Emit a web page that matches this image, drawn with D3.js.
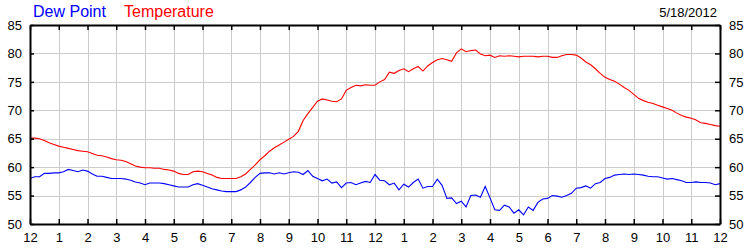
<!DOCTYPE html>
<html>
<head>
<meta charset="utf-8">
<script src="https://cdn.jsdelivr.net/npm/d3@7"></script>
<style>
  body { margin: 0; background: #fff; }
  svg text { font-family: Arial, "Liberation Sans", sans-serif; }
</style>
</head>
<body>
<div id="chart"></div>
<script>
(function() {

    // readings every 10 minutes, midnight to midnight
    var stepMinutes = 10;

    var temperature = [
        65.1, 65.1, 65.0, 64.7, 64.3, 64.0, 63.7, 63.5, 63.3, 63.1, 62.9, 62.8,
        62.7, 62.4, 62.1, 62.0, 61.8, 61.5, 61.3, 61.2, 61.0, 60.6, 60.2, 60.0,
        59.9, 59.9, 59.8, 59.8, 59.6, 59.5, 59.3, 58.9, 58.7, 58.7, 59.2, 59.3,
        59.2, 58.9, 58.6, 58.2, 58.0, 58.0, 58.0, 58.0, 58.3, 58.8, 59.6, 60.4,
        61.3, 62.0, 62.8, 63.4, 63.9, 64.4, 64.9, 65.4, 66.3, 68.2, 69.4, 70.5,
        71.6, 72.0, 71.8, 71.6, 71.5, 72.0, 73.5, 74.0, 74.4, 74.3, 74.5, 74.4,
        74.4, 75.0, 75.4, 76.7, 76.5, 77.0, 77.3, 76.8, 77.3, 77.7, 76.9, 77.8,
        78.4, 78.9, 79.1, 78.9, 78.6, 80.1, 80.8, 80.3, 80.5, 80.6, 79.9, 79.6,
        79.7, 79.3, 79.6, 79.5, 79.6, 79.5, 79.4, 79.5, 79.5, 79.5, 79.4, 79.5,
        79.5, 79.3, 79.3, 79.6, 79.8, 79.8, 79.7, 79.2, 78.5, 78.0, 77.3, 76.5,
        75.8, 75.4, 75.1, 74.6, 74.0, 73.5, 72.8, 72.1, 71.7, 71.4, 71.2, 70.9,
        70.6, 70.3, 70.0, 69.5, 69.1, 68.8, 68.6, 68.3, 67.8, 67.7, 67.5, 67.3,
        67.2
    ];

    var dewPoint = [
        58.0, 58.3, 58.3, 58.9, 58.9, 59.0, 59.0, 59.2, 59.6, 59.4, 59.2, 59.5,
        59.3, 58.8, 58.4, 58.4, 58.2, 58.0, 58.0, 58.0, 57.9, 57.7, 57.4, 57.2,
        56.9, 57.2, 57.2, 57.2, 57.1, 56.9, 56.7, 56.5, 56.5, 56.5, 56.9, 57.1,
        56.8, 56.5, 56.2, 56.0, 55.8, 55.7, 55.7, 55.7, 56.0, 56.5, 57.3, 58.2,
        58.9, 59.0, 59.0, 58.8, 59.0, 58.8, 59.0, 59.2, 59.1, 58.7, 59.4, 58.4,
        58.0, 57.6, 57.9, 57.2, 57.4, 56.4, 57.2, 57.3, 56.9, 57.2, 57.5, 57.3,
        58.7, 57.7, 57.6, 56.9, 57.2, 56.0, 57.0, 56.5, 57.3, 57.9, 56.3, 56.6,
        56.6, 57.9, 56.8, 54.5, 54.6, 53.6, 54.0, 53.0, 55.0, 55.1, 54.7, 56.6,
        54.6, 52.5, 52.4, 53.3, 53.0, 51.9, 52.5, 51.6, 53.0, 52.4, 53.8, 54.4,
        54.5, 55.0, 54.9, 54.7, 55.0, 55.4, 56.3, 56.4, 56.7, 56.3, 57.1, 57.3,
        58.0, 58.2, 58.6, 58.7, 58.8, 58.7, 58.8, 58.7, 58.6, 58.4, 58.3, 58.3,
        58.1, 57.9, 58.0, 57.8, 57.6, 57.3, 57.3, 57.4, 57.3, 57.3, 57.2, 56.9,
        57.1
    ];

    var hourLabels = ["12", "1", "2", "3", "4", "5", "6", "7", "8", "9", "10", "11",
                      "12", "1", "2", "3", "4", "5", "6", "7", "8", "9", "10", "11", "12"];
    var yTicks = [50, 55, 60, 65, 70, 75, 80, 85];
    var dateLabel = "5/18/2012";

    var W = 750, H = 250;
    var margin = {top: 25, left: 30, right: 30, bottom: 26},
        width = W - margin.left - margin.right,
        height = H - margin.top - margin.bottom;

    var svg = d3.select("#chart")
            .append("svg")
            .attr("width", W)
            .attr("height", H);

    var g = svg.append("g")
            .attr("transform", "translate(" + margin.left + "," + margin.top + ")");

    var x = d3.scaleLinear()
              .domain([0, 24 * 60])
              .range([0, width]);

    var y = d3.scaleLinear()
              .domain([50, 85])
              .range([height, 0]);

    var hourTicks = hourLabels.map(function(d, i) { return i * 60; });

    // grid
    g.append("g")
     .selectAll("line")
     .data(hourTicks.slice(1, -1))
     .enter().append("line")
       .attr("x1", function(d) { return Math.round(x(d)) + 0.5; })
       .attr("x2", function(d) { return Math.round(x(d)) + 0.5; })
       .attr("y1", 0)
       .attr("y2", height)
       .attr("stroke", "#cccccc");

    g.append("g")
     .selectAll("line")
     .data(yTicks.slice(1, -1))
     .enter().append("line")
       .attr("x1", 0)
       .attr("x2", width)
       .attr("y1", function(d) { return Math.round(y(d)) + 0.5; })
       .attr("y2", function(d) { return Math.round(y(d)) + 0.5; })
       .attr("stroke", "#cccccc");

    // series
    var line = d3.line()
        .x(function(d, i) { return x(i * stepMinutes); })
        .y(function(d) { return y(d); });

    g.append("path")
     .datum(dewPoint)
     .attr("fill", "none")
     .attr("stroke", "#0000ff")
     .attr("stroke-width", 1.1)
     .attr("d", line);

    g.append("path")
     .datum(temperature)
     .attr("fill", "none")
     .attr("stroke", "#ff0000")
     .attr("stroke-width", 1.1)
     .attr("d", line);

    // axes, ticks pointing inward
    var yLeft = d3.axisLeft(y).tickValues(yTicks).tickSizeInner(-4).tickSizeOuter(0).tickPadding(8);
    var yRight = d3.axisRight(y).tickValues(yTicks).tickSizeInner(-5).tickSizeOuter(0).tickPadding(9);
    var xBottom = d3.axisBottom(x).tickValues(hourTicks).tickSizeInner(-5).tickSizeOuter(0).tickPadding(9)
        .tickFormat(function(d, i) { return hourLabels[i]; });
    var xTop = d3.axisTop(x).tickValues(hourTicks).tickSizeInner(-5).tickSizeOuter(0)
        .tickFormat("");

    [
        g.append("g").call(yLeft),
        g.append("g").attr("transform", "translate(" + width + ",0)").call(yRight),
        g.append("g").attr("transform", "translate(0," + height + ")").call(xBottom),
        g.append("g").call(xTop)
    ].forEach(function(a) {
        a.select(".domain").attr("stroke", "#000").attr("stroke-width", 2);
        a.selectAll(".tick line").attr("stroke", "#000").attr("stroke-width", 1.5);
        a.selectAll(".tick text")
         .attr("fill", "#000")
         .attr("font-size", 13)
         .attr("font-family", "Arial, 'Liberation Sans', sans-serif");
    });

    // legend + date
    svg.append("text")
       .attr("x", 33)
       .attr("y", 17)
       .attr("font-size", 16)
       .attr("fill", "#0000ff")
       .text("Dew Point");

    svg.append("text")
       .attr("x", 124)
       .attr("y", 17)
       .attr("font-size", 16)
       .attr("fill", "#ff0000")
       .text("Temperature");

    svg.append("text")
       .attr("x", 717)
       .attr("y", 17)
       .attr("font-size", 13)
       .attr("text-anchor", "end")
       .attr("fill", "#000")
       .text(dateLabel);

})();
</script>
</body>
</html>
